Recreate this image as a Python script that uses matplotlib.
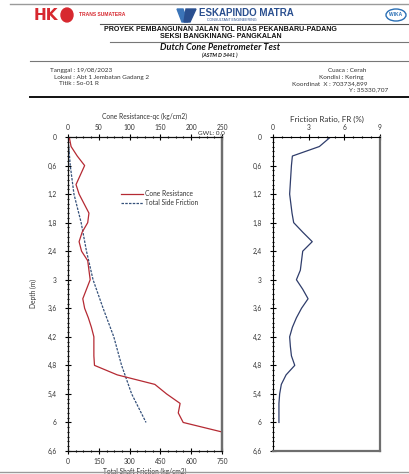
import matplotlib
matplotlib.use("Agg")
import matplotlib.pyplot as plt
from matplotlib.lines import Line2D
from matplotlib.patches import Ellipse, Circle, Polygon
from matplotlib.ticker import FuncFormatter, MultipleLocator

# ---------------- data ----------------
cone_depth = [0, 0.2, 0.4, 0.6, 0.8, 1.0, 1.2, 1.4, 1.6, 1.8, 2.0, 2.2, 2.4, 2.6, 2.8, 3.0,
              3.2, 3.4, 3.6, 3.8, 4.0, 4.2, 4.4, 4.6, 4.8, 5.0, 5.2, 5.4, 5.6, 5.8, 6.0, 6.2, 6.4, 6.6]
cone_qc = [2, 5, 15, 27, 20, 13, 18, 26, 34, 32, 23, 18, 22, 32, 34, 36,
           30, 24, 27, 33, 38, 42, 42, 42, 43, 80, 141, 160, 182, 179, 187, 250, 250, 250]

tsf_depth = [0, 0.6, 1.2, 1.8, 2.4, 3.0, 3.6, 4.2, 4.8, 5.4, 6.0]
tsf_value = [0, 11, 29, 64, 90, 122, 171, 223, 261, 310, 380]

fr_depth = [0, 0.2, 0.4, 0.6, 0.8, 1.0, 1.2, 1.4, 1.6, 1.8, 2.0, 2.2, 2.4, 2.6, 2.8, 3.0,
            3.2, 3.4, 3.6, 3.8, 4.0, 4.2, 4.4, 4.6, 4.8, 5.0, 5.2, 5.4, 5.6, 5.8, 6.0]
fr_value = [4.84, 3.9, 1.63, 1.55, 1.5, 1.45, 1.4, 1.5, 1.6, 1.74, 2.5, 3.3, 2.5, 2.4, 2.3, 1.97,
            2.5, 2.95, 2.4, 1.97, 1.63, 1.4, 1.46, 1.55, 1.83, 1.1, 0.7, 0.56, 0.5, 0.5, 0.5]

cone_ticks = [0, 50, 100, 150, 200, 250]
tsf_ticks = [0, 150, 300, 450, 600, 750]
fr_ticks = [0, 3, 6, 9]
depth_ticks = [0, 0.6, 1.2, 1.8, 2.4, 3.0, 3.6, 4.2, 4.8, 5.4, 6.0, 6.6]

W, H = 409, 474
fig = plt.figure(figsize=(W / 100, H / 100), dpi=100)
fig.patch.set_facecolor("white")

FONT = "Lato"
TXT = "#333333"


def fx(px):
    return px / W


def fy(py):
    return 1 - py / H


def comma(v, pos=None):
    s = ("%.1f" % v).rstrip("0").rstrip(".")
    return s.replace(".", ",")


# ---------------- header ----------------
def hline(x0, x1, y, lw=0.8, color="#8c8c8c"):
    fig.add_artist(Line2D([fx(x0), fx(x1)], [fy(y), fy(y)], lw=lw, color=color))


hline(10, 409, 4, 1.0, "#9a9a9a")
hline(100, 409, 24, 0.8, "#555555")
hline(110, 409, 42, 0.8, "#777777")
hline(30, 409, 61, 0.8, "#777777")
hline(30, 409, 97, 1.4, "#111111")
hline(0, 409, 472, 1.0, "#9a9a9a")

# HK logo
fig.text(fx(34), fy(16), "HK", color="#d7282f", fontsize=11, fontweight="bold",
         family="DejaVu Sans", va="center", ha="left")
fig.add_artist(Circle((fx(67), fy(15)), 6 / W, transform=fig.transFigure,
                      color="#d7282f"))
fig.text(fx(79), fy(15), "TRANS SUMATERA", color="#d7282f", fontsize=3.6,
         fontweight="bold", family="Liberation Sans", va="center", ha="left")
# Eskapindo logo
fig.add_artist(Polygon([[fx(177), fy(9)], [fx(183), fy(9)], [fx(188), fy(22)], [fx(182), fy(22)]],
                       closed=True, transform=fig.transFigure, color="#3b74b8"))
fig.add_artist(Polygon([[fx(186), fy(9)], [fx(196), fy(9)], [fx(190), fy(22)], [fx(184), fy(22)]],
                       closed=True, transform=fig.transFigure, color="#2a4f8f"))
fig.text(fx(199), fy(13), "ESKAPINDO MATRA", color="#2a4f8f", fontsize=7,
         fontweight="bold", family="Liberation Sans", va="center", ha="left")
fig.text(fx(207), fy(20), "CONSULTANT ENGINEERING", color="#2a4f8f", fontsize=2.6,
         family="Liberation Sans", va="center", ha="left")
# WIKA logo
fig.add_artist(Ellipse((fx(396), fy(15)), 20 / W, 12 / H, transform=fig.transFigure,
                       fill=False, ec="#2a6fb5", lw=1.0))
fig.text(fx(396), fy(15), "WIKA", color="#2a6fb5", fontsize=3.5, fontweight="bold",
         family="Liberation Sans", va="center", ha="center")

fig.text(fx(220), fy(29.5), "PROYEK PEMBANGUNAN JALAN TOL RUAS PEKANBARU-PADANG",
         fontsize=5.1, fontweight="bold", family="Liberation Sans", ha="center",
         va="center", color="#111111")
fig.text(fx(221), fy(37), "SEKSI BANGKINANG- PANGKALAN", fontsize=5.1, fontweight="bold",
         family="Liberation Sans", ha="center", va="center", color="#111111")
fig.text(fx(220), fy(48), "Dutch Cone Penetrometer Test", fontsize=6.6, fontweight="bold",
         style="italic", family=FONT, ha="center", va="center", color="#111111")
fig.text(fx(220), fy(55), "(ASTM D 3441 )", fontsize=3.8, fontweight="bold",
         style="italic", family=FONT, ha="center", va="center", color="#111111")

info_fs = 4.6
fig.text(fx(50), fy(70.5), "Tanggal : 19/08/2023", fontsize=info_fs, family=FONT,
         color=TXT, va="center")
fig.text(fx(54), fy(77.5), "Lokasi : Abt 1 Jembatan Gadang 2", fontsize=info_fs,
         family=FONT, color=TXT, va="center")
fig.text(fx(59), fy(83.5), "Titik : So-01 R", fontsize=info_fs, family=FONT,
         color=TXT, va="center")
fig.text(fx(328), fy(70.5), "Cuaca : Cerah", fontsize=info_fs, family=FONT,
         color=TXT, va="center")
fig.text(fx(319), fy(77.5), "Kondisi : Kering", fontsize=info_fs, family=FONT,
         color=TXT, va="center")
fig.text(fx(292), fy(83.5), "Koordinat  X : 703734,899", fontsize=info_fs,
         family=FONT, color=TXT, va="center")
fig.text(fx(348), fy(89.5), "Y : 35330,707", fontsize=info_fs, family=FONT,
         color=TXT, va="center")

# ---------------- axes ----------------
ax_bottom = (H - 451) / H
ax_height = 314 / H
axL = fig.add_axes([fx(68), ax_bottom, 154 / W, ax_height])
axR = fig.add_axes([fx(273), ax_bottom, 107 / W, ax_height])


def style_depth_axis(ax):
    ax.set_ylim(6.6, 0)
    ax.set_yticks(depth_ticks)
    ax.yaxis.set_major_formatter(FuncFormatter(comma))
    ax.yaxis.set_minor_locator(MultipleLocator(0.1))
    ax.tick_params(axis="y", which="major", direction="inout", length=4, width=0.8,
                   labelsize=4.8, labelcolor=TXT, pad=6)
    ax.tick_params(axis="y", which="minor", direction="inout", length=2, width=0.8)
    for lab in ax.get_yticklabels():
        lab.set_family(FONT)


# Left: total side friction on bottom axis
axL.plot(tsf_value, tsf_depth, color="#34507a", lw=0.9, ls=(0, (2, 1)),
         label="Total Side Friction")
axL.set_xlim(0, 750)
axL.set_xticks(tsf_ticks)
axL.xaxis.set_minor_locator(MultipleLocator(37.5))
axL.tick_params(axis="x", which="major", direction="inout", length=4, width=0.8,
                labelsize=4.8, labelcolor=TXT, pad=3)
axL.tick_params(axis="x", which="minor", direction="inout", length=2, width=0.8)
style_depth_axis(axL)
axL.set_xlabel("Total Shaft Friction (kg/cm2)", fontsize=4.8, family=FONT, color=TXT,
               labelpad=2)
axL.set_ylabel("Depth (m)", fontsize=4.8, family=FONT, color=TXT, labelpad=8)

axT = axL.twiny()
axT.plot(cone_qc, cone_depth, color="#b52a33", lw=0.9, label="Cone Resistance")
axT.set_xlim(0, 250)
axT.set_ylim(6.6, 0)
axT.set_xticks(cone_ticks)
axT.xaxis.set_minor_locator(MultipleLocator(12.5))
axT.tick_params(axis="x", which="major", direction="inout", length=4, width=0.8,
                labelsize=4.8, labelcolor=TXT, pad=2)
axT.tick_params(axis="x", which="minor", direction="inout", length=2, width=0.8)
axT.set_xlabel("Cone Resistance-qc (kg/cm2)", fontsize=4.8, family=FONT, color=TXT,
               labelpad=4)
for lab in axT.get_xticklabels() + axL.get_xticklabels():
    lab.set_family(FONT)
axT.text(0.93, 1.005, "GWL: 0,0", transform=axT.transAxes, fontsize=4.6, family=FONT,
         color=TXT, ha="center", va="bottom")

for a in (axL, axT):
    a.spines["right"].set_color("#6e6e6e")
    a.spines["right"].set_linewidth(1.6)
    a.spines["left"].set_color("#111111")
    a.spines["top"].set_color("#111111")
    a.spines["bottom"].set_color("#111111")

h1, l1 = axT.get_legend_handles_labels()
h2, l2 = axL.get_legend_handles_labels()
leg = axT.legend(h1 + h2, l1 + l2, loc="upper left", bbox_to_anchor=(0.33, 0.84),
                 frameon=False, fontsize=4.8, handlelength=3.2, handletextpad=0.4,
                 labelspacing=0.35, borderaxespad=0)
for t in leg.get_texts():
    t.set_family(FONT)
    t.set_color(TXT)

# Right: friction ratio
axR.plot(fr_value, fr_depth, color="#2f3d6b", lw=0.9)
axR.set_xlim(0, 9)
axR.set_xticks(fr_ticks)
axR.xaxis.tick_top()
axR.xaxis.set_label_position("top")
axR.tick_params(axis="x", which="major", direction="inout", length=4, width=0.8,
                labelsize=4.8, labelcolor=TXT, pad=2)
axR.xaxis.set_minor_locator(MultipleLocator(0.75))
axR.tick_params(axis="x", which="minor", direction="inout", length=2, width=0.8)
style_depth_axis(axR)
axR.set_xlabel("Friction Ratio, FR (%)", fontsize=5.8, family=FONT, color=TXT,
               labelpad=2)
for lab in axR.get_xticklabels():
    lab.set_family(FONT)
axR.spines["right"].set_color("#6e6e6e")
axR.spines["right"].set_linewidth(1.6)
axR.spines["bottom"].set_color("#6e6e6e")
axR.spines["bottom"].set_linewidth(1.6)

fig.savefig("out.png", dpi=100, facecolor="white")
